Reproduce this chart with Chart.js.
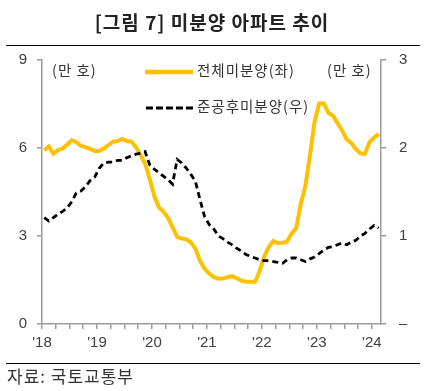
<!DOCTYPE html>
<html>
<head>
<meta charset="utf-8">
<script src="https://cdn.jsdelivr.net/npm/chart.js@4.4.1/dist/chart.umd.min.js"></script>
<style>
  body { margin: 0; background: #fff; }
  #wrap { position: relative; width: 424px; height: 391px; overflow: hidden; font-family: 'Noto Sans CJK KR', sans-serif; color: #333; }
  #chart { position: absolute; left: 0; top: 0; }
  .txt { position: absolute; white-space: nowrap; line-height: 1; }
  .lbl { font-size: 14.5px; letter-spacing: 1px; }
  .rule { position: absolute; left: 6px; width: 414px; height: 1px; background: #000; }
</style>
</head>
<body>
<div id="wrap">
  <canvas id="chart" width="424" height="391"></canvas>
  <div class="txt" id="title" style="left:0; width:424px; text-align:center; top:12px; font-size:19px; letter-spacing:1px; font-weight:bold; color:#222;">[그림 7] 미분양 아파트 추이</div>
  <div class="rule" style="top:45px;"></div>
  <div class="txt lbl" style="left:52px; top:63px;">(만 호)</div>
  <div class="txt lbl" style="left:327px; top:63px;">(만 호)</div>
  <div class="txt lbl" style="left:197px; top:63px;">전체미분양(좌)</div>
  <div class="txt lbl" style="left:197px; top:99px;">준공후미분양(우)</div>
  <div class="rule" style="top:363px;"></div>
  <div class="txt" style="left:7px; top:367px; font-size:17px; letter-spacing:1px;">자료: 국토교통부</div>
</div>
<script>
// monthly, Jan 2018 - Feb 2024 (만 호)
const startYear = 2018
const yearTicks = ["'18", "'19", "'20", "'21", "'22", "'23", "'24"]

// 전체 미분양 (left axis)
const totalUnsold = [
  5.93, 6.05, 5.80, 5.93, 5.98, 6.12, 6.26, 6.20, 6.07, 6.03, 5.97, 5.90,
  5.90, 5.98, 6.10, 6.22, 6.24, 6.31, 6.24, 6.22, 6.03, 5.76, 5.47, 4.95,
  4.37, 3.98, 3.83, 3.62, 3.30, 2.97, 2.91, 2.89, 2.78, 2.56, 2.15, 1.88,
  1.72, 1.60, 1.54, 1.55, 1.60, 1.63, 1.56, 1.48, 1.44, 1.44, 1.44, 1.80,
  2.30, 2.62, 2.83, 2.76, 2.77, 2.81, 3.09, 3.27, 4.11, 4.70, 5.76, 6.90,
  7.52, 7.52, 7.20, 7.10, 6.85, 6.60, 6.30, 6.17, 5.97, 5.82, 5.80, 6.20,
  6.36, 6.48,
]

// 준공후 미분양 (right axis)
const completedUnsold = [
  1.21, 1.17, 1.21, 1.25, 1.28, 1.32, 1.39, 1.49, 1.51, 1.56, 1.63, 1.67,
  1.77, 1.83, 1.84, 1.84, 1.86, 1.86, 1.89, 1.91, 1.93, 1.94, 1.96, 1.81,
  1.76, 1.72, 1.68, 1.64, 1.59, 1.87, 1.83, 1.77, 1.70, 1.62, 1.41, 1.22,
  1.13, 1.08, 1.00, 0.97, 0.93, 0.90, 0.86, 0.83, 0.79, 0.77, 0.75, 0.73,
  0.72, 0.72, 0.71, 0.70, 0.69, 0.73, 0.75, 0.75, 0.73, 0.71, 0.74, 0.76,
  0.80, 0.84, 0.87, 0.88, 0.90, 0.92, 0.90, 0.93, 0.95, 1.00, 1.03, 1.08,
  1.12, 1.09,
]

const months = totalUnsold.map((_, i) => `${startYear + Math.floor(i / 12)}-${String((i % 12) + 1).padStart(2, '0')}`)

const YELLOW = '#FFC000'
const AXIS = '#9a9a9a'
const tickFont = { family: "'Liberation Sans', Arial, sans-serif", size: 15 }

// each month sits in the middle of its slot on the time axis
const toPoints = (values) => values.map((v, i) => ({ x: i + 0.5, y: v, month: months[i] }))

const legendLines = {
  id: 'legendLines',
  afterDraw(chart) {
    const ctx = chart.ctx
    ctx.save()
    ctx.lineCap = 'butt'
    ctx.strokeStyle = YELLOW
    ctx.lineWidth = 4.5
    ctx.beginPath()
    ctx.moveTo(145, 72)
    ctx.lineTo(193, 72)
    ctx.stroke()

    ctx.strokeStyle = '#000'
    ctx.lineWidth = 2.8
    ctx.setLineDash([7, 3])
    ctx.beginPath()
    ctx.moveTo(146, 108)
    ctx.lineTo(193, 108)
    ctx.stroke()
    ctx.restore()
  },
}

new Chart(document.getElementById('chart'), {
  type: 'line',
  data: {
    datasets: [
      {
        label: '준공후미분양(우)',
        data: toPoints(completedUnsold),
        yAxisID: 'y2',
        borderColor: '#000',
        borderWidth: 2.8,
        borderDash: [6, 4],
        pointRadius: 0,
        tension: 0,
        order: 0,
      },
      {
        label: '전체미분양(좌)',
        data: toPoints(totalUnsold),
        yAxisID: 'y',
        borderColor: YELLOW,
        borderWidth: 4,
        pointRadius: 0,
        tension: 0,
        order: 1,
      },
    ],
  },
  options: {
    responsive: false,
    animation: false,
    layout: { padding: { top: 60 } },
    plugins: {
      legend: { display: false },
      tooltip: { enabled: false },
    },
    scales: {
      x: {
        type: 'linear',
        min: 0,
        max: 74,
        afterFit: (scale) => { scale.height = 67 },
        border: { color: AXIS, width: 1.5 },
        grid: { drawOnChartArea: false, drawTicks: true, tickLength: 5, color: AXIS, lineWidth: 1.5 },
        ticks: {
          stepSize: 3,
          includeBounds: false,
          autoSkip: false,
          maxRotation: 0,
          padding: 5,
          color: '#404040',
          font: tickFont,
          callback: (v) => (v % 12 === 0 ? yearTicks[v / 12] : ''),
        },
      },
      y: {
        position: 'left',
        min: 0,
        max: 9,
        afterFit: (scale) => { scale.width = 42 },
        border: { color: AXIS, width: 1.5 },
        grid: { drawOnChartArea: false, tickLength: 5, color: AXIS, lineWidth: 1.5 },
        ticks: { stepSize: 3, padding: 10, color: '#404040', font: tickFont },
      },
      y2: {
        position: 'right',
        min: 0,
        max: 3,
        afterFit: (scale) => { scale.width = 43 },
        border: { color: AXIS, width: 1.5 },
        grid: { drawOnChartArea: false, tickLength: 5, color: AXIS, lineWidth: 1.5 },
        ticks: {
          stepSize: 1,
          padding: 13,
          color: '#404040',
          font: tickFont,
          callback: (v) => (v === 0 ? '–' : v),
        },
      },
    },
  },
  plugins: [legendLines],
})
</script>
</body>
</html>
